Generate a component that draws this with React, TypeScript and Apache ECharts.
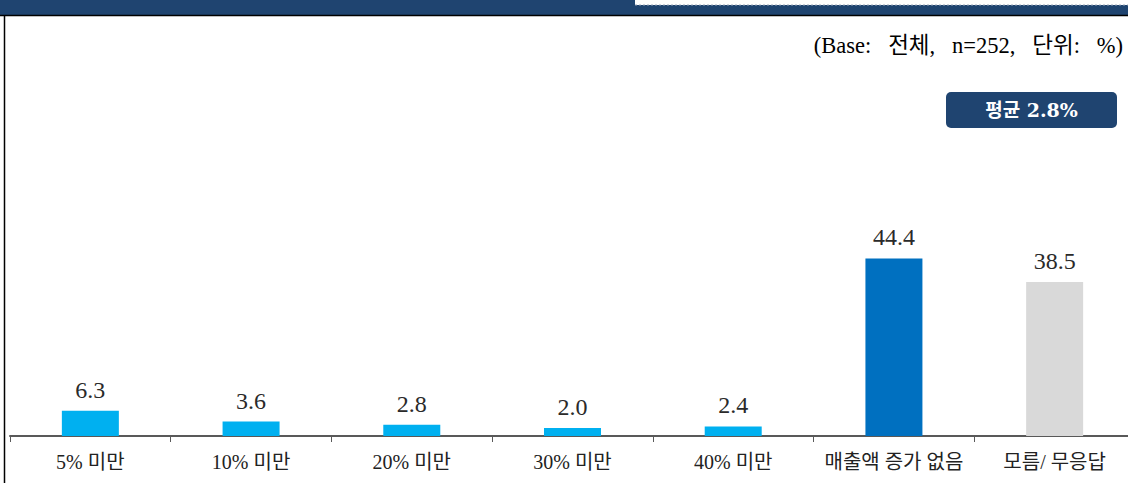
import React, { useEffect, useRef } from "react";
import * as echarts from "echarts";

const categories = ["5% 미만", "10% 미만", "20% 미만", "30% 미만", "40% 미만", "매출액 증가 없음", "모름/ 무응답"];
const values = [6.3, 3.6, 2.8, 2.0, 2.4, 44.4, 38.5];
const barColors = ["#00B0F0", "#00B0F0", "#00B0F0", "#00B0F0", "#00B0F0", "#0070C0", "#D9D9D9"];
const subtitle = "(Base:\u00a0\u00a0\u00a0전체,\u00a0\u00a0\u00a0n=252,\u00a0\u00a0\u00a0단위:\u00a0\u00a0\u00a0%)";
const badgeText = "평균 2.8%";

const SERIF = "'Liberation Serif', 'Noto Sans CJK KR', serif";

export default function App() {
  const ref = useRef<HTMLDivElement>(null);
  useEffect(() => {
    if (!ref.current) return;
    const chart = echarts.init(ref.current, null, { renderer: "svg" });
    chart.setOption({
      animation: false,
      backgroundColor: "#ffffff",
      grid: { left: 10, right: 5, top: 36, bottom: 47, containLabel: false },
      xAxis: {
        type: "category",
        data: categories,
        axisLine: { show: true, lineStyle: { color: "#595959", width: 2 } },
        axisTick: { show: true, alignWithLabel: false, length: 6, lineStyle: { color: "#595959", width: 1 } },
        axisLabel: { color: "#222", fontSize: 20, fontFamily: SERIF, margin: 16, interval: 0 },
      },
      yAxis: {
        type: "value",
        min: 0,
        max: 100,
        show: false,
        splitLine: { show: false },
      },
      series: [
        {
          type: "bar",
          barWidth: 57,
          data: values.map((v, i) => ({ value: v, itemStyle: { color: barColors[i] } })),
          label: {
            show: true,
            position: "top",
            distance: 9,
            color: "#2a2a2a",
            fontSize: 24,
            fontFamily: SERIF,
            formatter: (p: any) => Number(p.value).toFixed(1),
          },
        },
      ],
      graphic: [
        { type: "rect", shape: { x: 0, y: 0, width: 1140, height: 15 }, style: { fill: "#1F4470" } },
        { type: "rect", shape: { x: 635, y: 0, width: 505, height: 5 }, style: { fill: "#ffffff" } },
        { type: "line", shape: { x1: 635, y1: 5, x2: 1140, y2: 5 }, style: { stroke: "#9aa6b8", lineWidth: 1, lineDash: [2, 2] } },
        { type: "line", shape: { x1: 0, y1: 15.5, x2: 1140, y2: 15.5 }, style: { stroke: "#000", lineWidth: 1.5 } },
        { type: "line", shape: { x1: 4.5, y1: 15, x2: 4.5, y2: 483 }, style: { stroke: "#000", lineWidth: 1.5 } },
        {
          type: "text",
          x: 1123,
          y: 45,
          style: {
            text: subtitle,
            fill: "#000",
            fontSize: 22.5,
            fontFamily: SERIF,
            textAlign: "right",
            textVerticalAlign: "middle",
          },
        },
        {
          type: "rect",
          shape: { x: 946, y: 92, width: 171, height: 36, r: 5 },
          style: { fill: "#1F4470" },
        },
        {
          type: "text",
          x: 1031.5,
          y: 110,
          style: {
            text: badgeText,
            fill: "#fff",
            fontSize: 19,
            fontWeight: "bold",
            fontFamily: "'DejaVu Serif', 'Noto Sans CJK KR', serif",
            textAlign: "center",
            textVerticalAlign: "middle",
          },
        },
      ],
    });
    return () => chart.dispose();
  }, []);
  return (
    <div style={{ position: "fixed", left: 0, top: 0, width: 1128, height: 483, overflow: "hidden" }}>
      <div ref={ref} style={{ width: 1140, height: 483 }} />
    </div>
  );
}
